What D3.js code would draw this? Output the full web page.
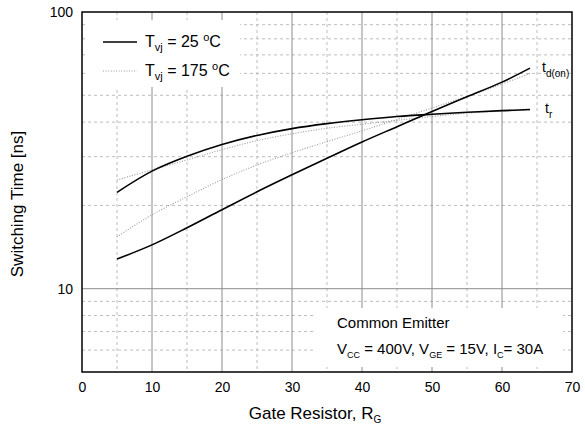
<!DOCTYPE html>
<html>
<head>
<meta charset="utf-8">
<script src="https://cdn.jsdelivr.net/npm/d3@7"></script>
<style>
  html, body { margin: 0; padding: 0; background: #fff; }
  svg { display: block; font-family: "Liberation Sans", Arial, sans-serif; }
</style>
</head>
<body>
<svg id="chart" width="585" height="431"></svg>
<script>
// Gate resistor values (ohm) at which the curves are sampled
const rg = [5, 10, 15, 20, 25, 30, 35, 40, 45, 50, 55, 60, 64];

// Switching times in ns
const tdOn25  = [12.8, 14.4, 16.6, 19.3, 22.4, 25.8, 29.6, 33.9, 38.5, 43.7, 49.4, 55.8, 62.7];
const tdOn175 = [15.4, 18.5, 21.5, 24.8, 28.0, 31.0, 34.0, 37.2, 40.9, 45.0, 49.6, 54.9, 60.0];
const tr25    = [22.3, 26.6, 30.1, 33.2, 35.8, 37.9, 39.5, 40.8, 41.9, 42.7, 43.4, 44.0, 44.4];
const tr175   = [24.7, 26.9, 29.2, 31.8, 34.3, 36.3, 38.0, 39.3, 40.6, 41.9, 43.1, 43.8, 44.2];

// Axis ticks
const xTicks = [0, 10, 20, 30, 40, 50, 60, 70];
const xMinorTicks = [5, 15, 25, 35, 45, 55, 65];
const yTicks = [10, 100];
const yMinorTicks = [6, 7, 8, 9, 20, 30, 40, 50, 60, 70, 80, 90];

const svg = d3.select("#chart");
const margin = { left: 82, right: 13, top: 12, bottom: 59 };
const W = 585, H = 431;

const x = d3.scaleLinear().domain([0, 70]).range([margin.left, W - margin.right]);
const y = d3.scaleLog().domain([5, 100]).range([H - margin.bottom, margin.top]);

const grid = svg.append("g");

// Minor grid (dashed)
grid.selectAll(".vminor").data(xMinorTicks).enter().append("line")
  .attr("x1", d => x(d)).attr("x2", d => x(d))
  .attr("y1", y(100)).attr("y2", y(5))
  .attr("stroke", "#bdbdbd").attr("stroke-width", 1).attr("stroke-dasharray", "3,3");
grid.selectAll(".hminor").data(yMinorTicks).enter().append("line")
  .attr("x1", x(0)).attr("x2", x(70))
  .attr("y1", d => y(d)).attr("y2", d => y(d))
  .attr("stroke", "#bdbdbd").attr("stroke-width", 1).attr("stroke-dasharray", "3,3");

// Major grid (solid)
grid.selectAll(".vmajor").data(xTicks.slice(1, -1)).enter().append("line")
  .attr("x1", d => x(d)).attr("x2", d => x(d))
  .attr("y1", y(100)).attr("y2", y(5))
  .attr("stroke", "#8c8c8c").attr("stroke-width", 1);
grid.append("line")
  .attr("x1", x(0)).attr("x2", x(70))
  .attr("y1", y(10)).attr("y2", y(10))
  .attr("stroke", "#8c8c8c").attr("stroke-width", 1);

// White panels behind legend and test conditions
svg.append("rect").attr("x", 88).attr("y", 20).attr("width", 152).attr("height", 67).attr("fill", "#fff");
svg.append("rect").attr("x", 313).attr("y", 308).attr("width", 250).attr("height", 59).attr("fill", "#fff");

// Curves
const line = d3.line()
  .x(d => x(d[0]))
  .y(d => y(d[1]))
  .curve(d3.curveCatmullRom.alpha(0.5));

const series = [
  { v: tr175, solid: false },
  { v: tdOn175, solid: false },
  { v: tr25, solid: true },
  { v: tdOn25, solid: true }
];
series.forEach(s => {
  svg.append("path")
    .datum(rg.map((r, i) => [r, s.v[i]]))
    .attr("d", line)
    .attr("fill", "none")
    .attr("stroke", s.solid ? "#000" : "#9a9a9a")
    .attr("stroke-width", s.solid ? 1.6 : 1.1)
    .attr("stroke-dasharray", s.solid ? null : "1,1.6");
});

// Frame
svg.append("rect")
  .attr("x", x(0)).attr("y", y(100))
  .attr("width", x(70) - x(0)).attr("height", y(5) - y(100))
  .attr("fill", "none").attr("stroke", "#000").attr("stroke-width", 1.5);

// Tick labels
const xAxis = d3.axisBottom(x).tickValues(xTicks).tickSize(0).tickPadding(10).tickFormat(d3.format("d"));
const gx = svg.append("g").attr("transform", `translate(0,${y(5)})`).call(xAxis);
gx.select(".domain").remove();
gx.selectAll("text").attr("font-size", 14).attr("fill", "#000").attr("font-family", "Liberation Sans, Arial, sans-serif");

const yAxis = d3.axisLeft(y).tickValues(yTicks).tickSize(0).tickPadding(9).tickFormat(d3.format("d"));
const gy = svg.append("g").attr("transform", `translate(${x(0)},0)`).call(yAxis);
gy.select(".domain").remove();
gy.selectAll("text").attr("font-size", 14).attr("fill", "#000").attr("font-family", "Liberation Sans, Arial, sans-serif");

// Axis titles
const xt = svg.append("text").attr("x", 315).attr("y", 419)
  .attr("text-anchor", "middle").attr("font-size", 17);
xt.append("tspan").text("Gate Resistor, R");
xt.append("tspan").attr("dy", 4).attr("font-size", 10).text("G");

svg.append("text")
  .attr("transform", "translate(23,204) rotate(-90)")
  .attr("text-anchor", "middle").attr("font-size", 17)
  .text("Switching Time [ns]");

// Legend
const legend = [
  { label: "25", solid: true, yy: 42 },
  { label: "175", solid: false, yy: 71 }
];
legend.forEach(l => {
  svg.append("line")
    .attr("x1", 103).attr("x2", 137).attr("y1", l.yy).attr("y2", l.yy)
    .attr("stroke", l.solid ? "#000" : "#9a9a9a")
    .attr("stroke-width", l.solid ? 1.6 : 1.1)
    .attr("stroke-dasharray", l.solid ? null : "1,1.6");
  const t = svg.append("text").attr("x", 145).attr("y", l.yy + 5).attr("font-size", 16);
  t.append("tspan").text("T");
  t.append("tspan").attr("dy", 4).attr("font-size", 11).text("vj");
  t.append("tspan").attr("dy", -4).text(" = " + l.label + " ");
  t.append("tspan").attr("dy", -6).attr("font-size", 11).text("o");
  t.append("tspan").attr("dy", 6).text("C");
});

// Curve labels
const tdl = svg.append("text").attr("x", 542).attr("y", 72).attr("font-size", 14);
tdl.append("tspan").text("t");
tdl.append("tspan").attr("dy", 5).attr("font-size", 10).text("d(on)");
const trl = svg.append("text").attr("x", 545).attr("y", 113).attr("font-size", 14);
trl.append("tspan").text("t");
trl.append("tspan").attr("dy", 5).attr("font-size", 10).text("r");

// Test conditions
svg.append("text").attr("x", 337).attr("y", 328).attr("font-size", 15).text("Common Emitter");
const cond = svg.append("text").attr("x", 337).attr("y", 354).attr("font-size", 15);
const parts = [["V", "CC", " = 400V, "], ["V", "GE", " = 15V, "], ["I", "C", "= 30A"]];
parts.forEach(p => {
  cond.append("tspan").text(p[0]);
  cond.append("tspan").attr("dy", 4).attr("font-size", 9).text(p[1]);
  cond.append("tspan").attr("dy", -4).text(p[2]);
});
</script>
</body>
</html>
